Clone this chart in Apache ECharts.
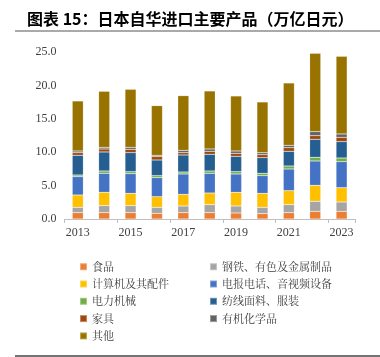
<!DOCTYPE html>
<html><head><meta charset="utf-8">
<script src="https://cdn.jsdelivr.net/npm/echarts@6/dist/echarts.min.js"></script>
<style>html,body{margin:0;padding:0;background:#fff}#c{width:380px;height:357px}</style>
</head><body><div id="c"></div>
<script>
const years = ['2013','2014','2015','2016','2017','2018','2019','2020','2021','2022','2023'];
const yTicks = [0, 5, 10, 15, 20, 25];
const names = ['食品','钢铁、有色及金属制品','计算机及其配件','电报电话、音视频设备','电力机械','纺线面料、服装','家具','有机化学品','其他'];
const food      = [0.95, 0.95, 0.95, 0.85, 0.95, 0.95, 0.90, 0.80, 0.95, 1.15, 1.15];
const steel     = [0.80, 1.05, 1.05, 0.90, 1.00, 1.20, 1.05, 0.95, 1.20, 1.50, 1.40];
const computer  = [1.85, 2.00, 1.85, 1.60, 1.75, 1.75, 2.05, 2.10, 2.10, 2.40, 2.15];
const telecom   = [2.75, 2.85, 2.95, 2.85, 3.05, 2.95, 2.75, 2.65, 3.25, 3.65, 3.90];
const electric  = [0.25, 0.35, 0.30, 0.30, 0.30, 0.35, 0.35, 0.35, 0.45, 0.55, 0.55];
const textile   = [2.95, 2.85, 2.85, 2.35, 2.55, 2.50, 2.30, 2.35, 2.20, 2.70, 2.45];
const furniture = [0.40, 0.45, 0.50, 0.50, 0.35, 0.45, 0.45, 0.45, 0.55, 0.55, 0.65];
const chemical  = [0.25, 0.25, 0.30, 0.20, 0.35, 0.35, 0.35, 0.30, 0.35, 0.60, 0.50];
const other     = [7.50, 8.40, 8.70, 7.45, 8.20, 8.70, 8.25, 7.60, 9.35, 11.75, 11.65];
const seriesData = [food, steel, computer, telecom, electric, textile, furniture, chemical, other];
const colors = ['#ED7D31','#A5A5A5','#FFC000','#4472C4','#70AD47','#255E91','#9E480E','#636363','#997300'];

const chart = echarts.init(document.getElementById('c'), null, {renderer:'canvas'});
const legendText = {fontFamily:'"Noto Serif CJK SC","Noto Sans CJK SC", serif', fontSize:11, color:'#404040', lineHeight:12};
chart.setOption({
  animation:false,
  color: colors,
  title:{
    text:'图表 15：日本自华进口主要产品（万亿日元）',
    left:22, top:6,
    textStyle:{fontSize:16, fontWeight:'bold', color:'#000', fontFamily:'"Noto Sans CJK SC", sans-serif'}
  },
  graphic:[
    {type:'line', shape:{x1:15,y1:31,x2:380,y2:31}, style:{stroke:'#555', lineWidth:1}},
    {type:'line', shape:{x1:15,y1:356,x2:380,y2:356}, style:{stroke:'#444', lineWidth:1.5}}
  ],
  legend:[
    {orient:'vertical', left:74, top:255.7, itemWidth:7, itemHeight:7, itemGap:5.3, icon:'rect',
     data:[names[0],names[2],names[4],names[6],names[8]], textStyle:legendText},
    {orient:'vertical', left:204, top:255.7, itemWidth:7, itemHeight:7, itemGap:5.3, icon:'rect',
     data:[names[1],names[3],names[5],names[7]], textStyle:legendText}
  ],
  grid:{left:64.6, right:25.2, top:52.3, bottom:138, containLabel:false},
  xAxis:{
    type:'category', data:years, boundaryGap:true,
    axisLine:{lineStyle:{color:'#BFBFBF'}},
    axisTick:{show:true, interval:1, length:4, lineStyle:{color:'#BFBFBF'}},
    axisLabel:{interval:1, color:'#404040', fontFamily:'"Liberation Serif", serif', fontSize:12, margin:8}
  },
  yAxis:{
    type:'value', min:yTicks[0], max:yTicks[yTicks.length-1], interval:5,
    axisLine:{show:false}, axisTick:{show:false}, splitLine:{show:false},
    axisLabel:{color:'#404040', fontFamily:'"Liberation Serif", serif', fontSize:12, margin:8,
      formatter:v=>v.toFixed(1)}
  },
  series: seriesData.map((d,i)=>({
    name:names[i], type:'bar', stack:'total', data:d, barWidth:'42%',
    itemStyle:{color:colors[i], borderColor:'rgba(255,255,255,0.35)', borderWidth:0.5}
  }))
});
</script></body></html>
